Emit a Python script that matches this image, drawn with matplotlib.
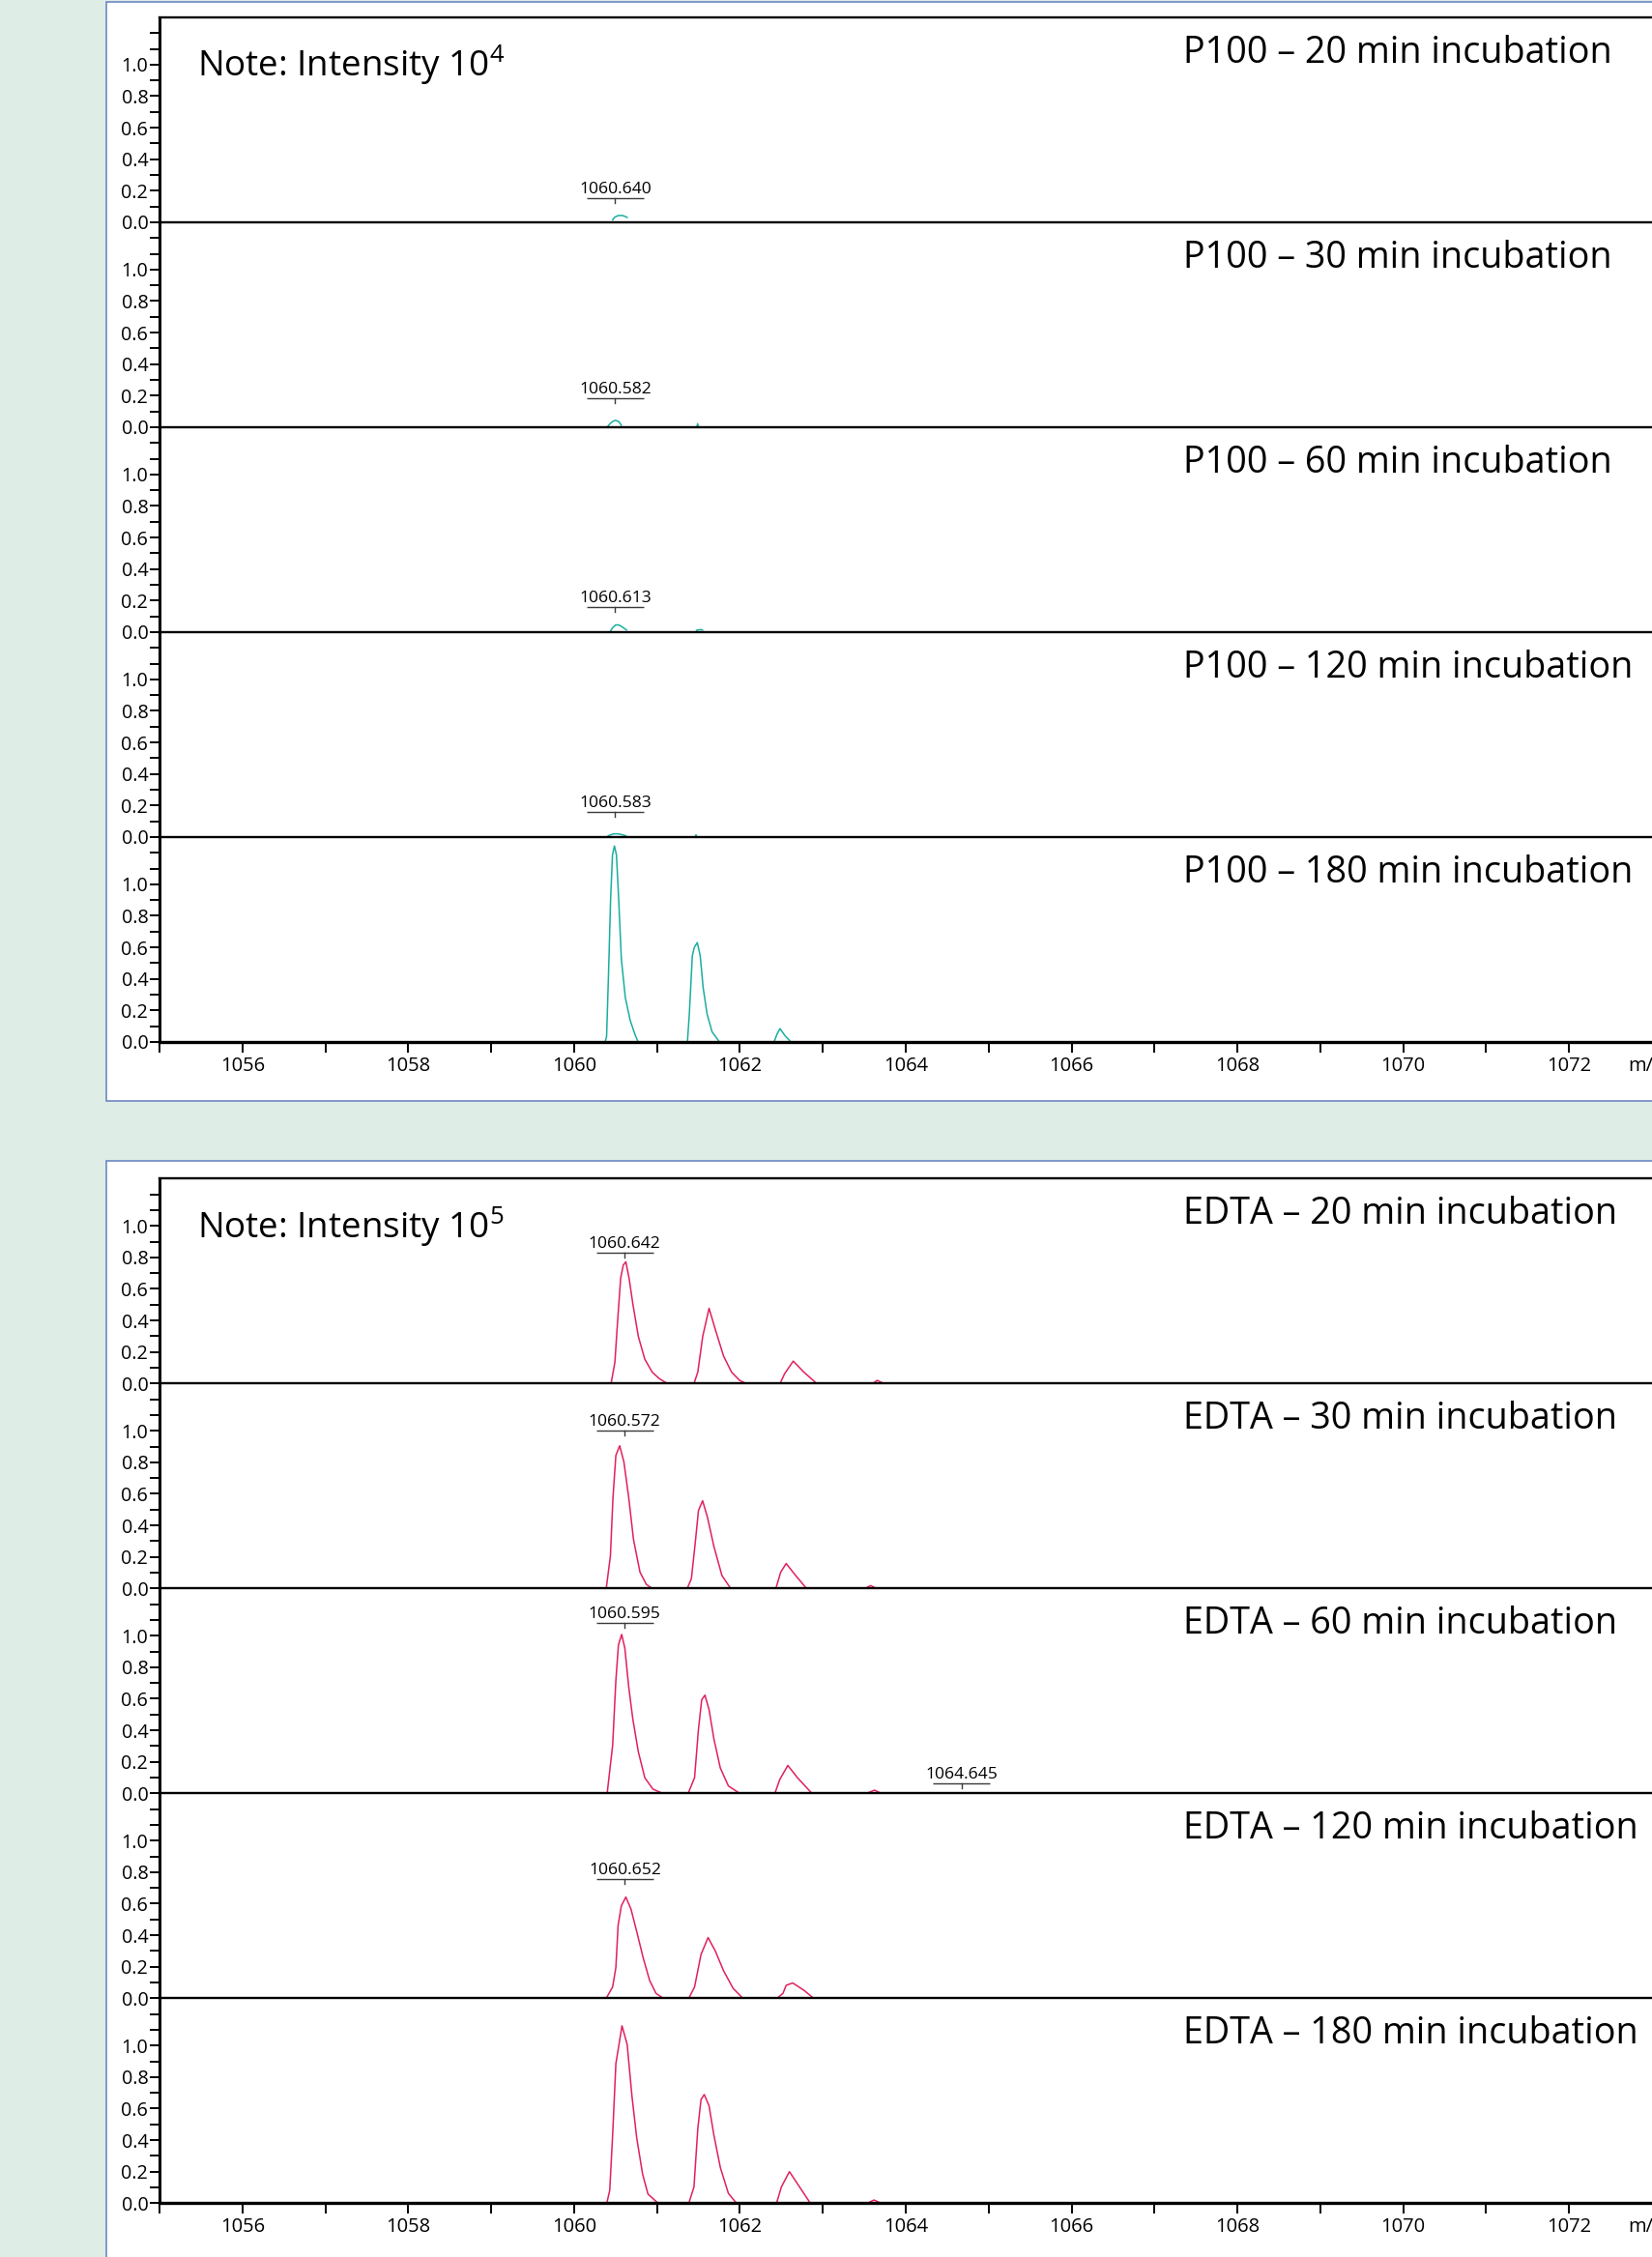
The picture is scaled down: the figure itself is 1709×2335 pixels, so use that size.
import matplotlib
matplotlib.use("Agg")
import matplotlib.pyplot as plt
from matplotlib.patches import Rectangle
from matplotlib.ticker import FixedLocator

# fonts
plt.rcParams['font.family'] = ['Open Sans', 'DejaVu Sans']
plt.rcParams['mathtext.fontset'] = 'custom'
plt.rcParams['mathtext.rm'] = 'Open Sans'
plt.rcParams['mathtext.it'] = 'Open Sans'

# ---------------- data ----------------
TIMES = [20, 30, 60, 120, 180]

# P100 traces, one list of peak segments per incubation time
P100_20_MZ = [[1060.465, 1060.49, 1060.53, 1060.58, 1060.62, 1060.64]]
P100_20_INT = [[0.015, 0.032, 0.042, 0.043, 0.036, 0.03]]

P100_30_MZ = [[1060.399, 1060.43, 1060.47, 1060.50, 1060.54, 1060.57],
              [1061.48, 1061.49, 1061.50]]
P100_30_INT = [[0.0, 0.02, 0.038, 0.043, 0.035, 0.012],
               [0.0, 0.022, 0.0]]

P100_60_MZ = [[1060.434, 1060.46, 1060.50, 1060.54, 1060.58, 1060.632],
              [1061.47, 1061.48, 1061.53, 1061.55]]
P100_60_INT = [[0.0, 0.025, 0.045, 0.045, 0.033, 0.013],
               [0.0, 0.012, 0.016, 0.012]]

P100_120_MZ = [[1060.392, 1060.43, 1060.48, 1060.53, 1060.58, 1060.624],
               [1061.46, 1061.47, 1061.48]]
P100_120_INT = [[0.0, 0.012, 0.02, 0.02, 0.014, 0.008],
                [0.0, 0.014, 0.0]]

P100_180_MZ = [[1060.374, 1060.392, 1060.416, 1060.440, 1060.463, 1060.487, 1060.511,
                1060.535, 1060.570, 1060.618, 1060.677, 1060.737, 1060.772],
               [1061.367, 1061.390, 1061.426, 1061.450, 1061.486, 1061.521, 1061.557,
                1061.604, 1061.664, 1061.753],
               [1062.412, 1062.448, 1062.484, 1062.543, 1062.614]]
P100_180_INT = [[0.0, 0.033, 0.444, 0.897, 1.185, 1.243, 1.185, 0.938, 0.527, 0.280,
                 0.136, 0.043, 0.0],
                [0.0, 0.177, 0.547, 0.60, 0.63, 0.547, 0.342, 0.177, 0.064, 0.0],
                [0.0, 0.05, 0.084, 0.04, 0.0]]

# EDTA traces
EDTA_20_MZ = [[1060.446, 1060.492, 1060.523, 1060.562, 1060.593, 1060.624, 1060.663,
               1060.709, 1060.775, 1060.853, 1060.942, 1061.027, 1061.124],
              [1061.446, 1061.492, 1061.551, 1061.628, 1061.705, 1061.802, 1061.899,
               1061.996, 1062.074],
              [1062.484, 1062.539, 1062.643, 1062.771, 1062.926],
              [1063.605, 1063.656, 1063.733]]
EDTA_20_INT = [[0.0, 0.134, 0.381, 0.669, 0.751, 0.772, 0.669, 0.504, 0.298, 0.154,
                0.072, 0.031, 0.0],
               [0.0, 0.072, 0.298, 0.477, 0.340, 0.175, 0.072, 0.02, 0.0],
               [0.0, 0.062, 0.142, 0.072, 0.0],
               [0.0, 0.02, 0.0]]

EDTA_30_MZ = [[1060.388, 1060.438, 1060.469, 1060.504, 1060.550, 1060.601, 1060.659,
               1060.717, 1060.795, 1060.872, 1060.942],
              [1061.365, 1061.415, 1061.461, 1061.500, 1061.550, 1061.608, 1061.686,
               1061.783, 1061.888],
              [1062.434, 1062.492, 1062.558, 1062.655, 1062.802],
              [1063.508, 1063.578, 1063.643]]
EDTA_30_INT = [[0.0, 0.206, 0.576, 0.844, 0.905, 0.802, 0.576, 0.309, 0.103, 0.025, 0.0],
               [0.0, 0.062, 0.288, 0.494, 0.556, 0.453, 0.267, 0.082, 0.0],
               [0.0, 0.103, 0.158, 0.093, 0.0],
               [0.0, 0.018, 0.0]]

EDTA_60_MZ = [[1060.399, 1060.465, 1060.504, 1060.535, 1060.574, 1060.612, 1060.659,
               1060.709, 1060.775, 1060.853, 1060.950, 1061.066],
              [1061.376, 1061.453, 1061.500, 1061.539, 1061.578, 1061.628, 1061.686,
               1061.764, 1061.861, 1061.996],
              [1062.422, 1062.481, 1062.578, 1062.694, 1062.868],
              [1063.527, 1063.624, 1063.702]]
EDTA_60_INT = [[0.0, 0.305, 0.716, 0.942, 1.008, 0.922, 0.675, 0.469, 0.263, 0.099,
                0.027, 0.0],
               [0.0, 0.099, 0.407, 0.593, 0.623, 0.531, 0.346, 0.160, 0.047, 0.0],
               [0.0, 0.088, 0.177, 0.099, 0.0],
               [0.0, 0.02, 0.0]]

EDTA_120_MZ = [[1060.388, 1060.465, 1060.504, 1060.531, 1060.570, 1060.624, 1060.686,
                1060.756, 1060.833, 1060.911, 1060.988, 1061.074],
               [1061.384, 1061.453, 1061.531, 1061.616, 1061.705, 1061.802, 1061.919,
                1062.035],
               [1062.450, 1062.519, 1062.558, 1062.636, 1062.771, 1062.888]]
EDTA_120_INT = [[0.0, 0.072, 0.195, 0.463, 0.586, 0.642, 0.566, 0.422, 0.257, 0.113,
                 0.031, 0.0],
                [0.0, 0.072, 0.278, 0.385, 0.298, 0.175, 0.062, 0.0],
                [0.0, 0.031, 0.082, 0.097, 0.051, 0.0]]

EDTA_180_MZ = [[1060.395, 1060.430, 1060.465, 1060.504, 1060.578, 1060.640, 1060.698,
                1060.756, 1060.826, 1060.891, 1061.012],
               [1061.384, 1061.446, 1061.492, 1061.531, 1061.570, 1061.628, 1061.686,
                1061.764, 1061.861, 1061.958],
               [1062.442, 1062.500, 1062.597, 1062.694, 1062.849],
               [1063.539, 1063.616, 1063.702]]
EDTA_180_INT = [[0.0, 0.082, 0.432, 0.885, 1.125, 1.008, 0.679, 0.412, 0.185, 0.058, 0.0],
                [0.0, 0.103, 0.473, 0.658, 0.689, 0.617, 0.432, 0.226, 0.062, 0.0],
                [0.0, 0.103, 0.20, 0.123, 0.0],
                [0.0, 0.02, 0.0]]

P100_MZ = [P100_20_MZ, P100_30_MZ, P100_60_MZ, P100_120_MZ, P100_180_MZ]
P100_INT = [P100_20_INT, P100_30_INT, P100_60_INT, P100_120_INT, P100_180_INT]
EDTA_MZ = [EDTA_20_MZ, EDTA_30_MZ, EDTA_60_MZ, EDTA_120_MZ, EDTA_180_MZ]
EDTA_INT = [EDTA_20_INT, EDTA_30_INT, EDTA_60_INT, EDTA_120_INT, EDTA_180_INT]

# peak annotations: panel index, m/z position, height of the bracket, text
P100_LBL_PANEL = [0, 1, 2, 3]
P100_LBL_MZ = [1060.496, 1060.496, 1060.496, 1060.496]
P100_LBL_Y = [0.153, 0.182, 0.160, 0.158]
P100_LBL_TEXT = ['1060.640', '1060.582', '1060.613', '1060.583']

EDTA_LBL_PANEL = [0, 1, 2, 2, 3]
EDTA_LBL_MZ = [1060.608, 1060.608, 1060.612, 1064.671, 1060.613]
EDTA_LBL_Y = [0.83, 1.004, 1.08, 0.064, 0.759]
EDTA_LBL_TEXT = ['1060.642', '1060.572', '1060.595', '1064.645', '1060.652']

Y_MAJOR = [0.0, 0.2, 0.4, 0.6, 0.8, 1.0]
Y_MINOR = [0.1, 0.3, 0.5, 0.7, 0.9, 1.1, 1.2]
X_MAJOR = [1056, 1058, 1060, 1062, 1064, 1066, 1068, 1070, 1072]
X_MINOR = [1055, 1057, 1059, 1061, 1063, 1065, 1067, 1069, 1071]

# ---------------- layout ----------------
W, H = 1709, 2335
X0 = 165          # left spine, px
STEP = 212        # height of one spectrum strip, px
XMIN, XMAX = 1055, 1073.0
TEAL = '#1AAE9E'
RED = '#E0215C'
BG = '#DEEDE6'
EDGE = '#6D88C2'

fig = plt.figure(figsize=(W / 100, H / 100), dpi=100)
fig.patch.set_facecolor(BG)

# white panels
fig.add_artist(Rectangle((110 / W, 1 - 1139 / H), 1.5, 1137 / H, transform=fig.transFigure,
                         facecolor='white', edgecolor=EDGE, lw=1.2, zorder=-5))
fig.add_artist(Rectangle((110 / W, -0.2), 1.5, 0.2 + 1 - 1201 / H, transform=fig.transFigure,
                         facecolor='white', edgecolor=EDGE, lw=1.2, zorder=-5))


def peak_label(ax, x, y, text):
    ax.plot([x - 0.344, x + 0.344], [y, y], color='#3a3a3a', lw=1.0, solid_capstyle='butt')
    ax.plot([x, x], [y, y - 0.031], color='#3a3a3a', lw=1.0)
    ax.annotate(text, (x, y), xytext=(0, 3.6), textcoords='offset points',
                ha='center', va='baseline', fontsize=12.6)


def draw_group(top_px, name, mz_all, int_all, colour, note,
               lbl_panel, lbl_mz, lbl_y, lbl_text):
    for i in range(5):
        top = top_px + i * STEP
        ax = fig.add_axes([X0 / W, 1 - (top + STEP) / H, 1 - X0 / W, STEP / H])
        ax.patch.set_visible(False)
        ax.set_xlim(XMIN, XMAX)
        ax.set_ylim(0, 1.3)

        for seg_mz, seg_int in zip(mz_all[i], int_all[i]):
            ax.plot(seg_mz, seg_int, color=colour, lw=1.1, zorder=2)

        ax.spines['right'].set_visible(False)
        ax.spines['top'].set_visible(i == 0)
        ax.spines['top'].set_linewidth(1.7)
        ax.spines['left'].set_linewidth(2.2)
        ax.spines['bottom'].set_linewidth(2.4 if i == 4 else 1.7)
        for s in ax.spines.values():
            s.set_zorder(3)

        ax.yaxis.set_major_locator(FixedLocator(Y_MAJOR))
        ax.yaxis.set_minor_locator(FixedLocator(Y_MINOR))
        ax.set_yticklabels(['%.1f' % v for v in Y_MAJOR])
        ax.tick_params(axis='y', which='both', direction='out', length=6.9,
                       width=1.4, pad=1.5, labelsize=14.2)

        if i == 4:
            ax.xaxis.set_major_locator(FixedLocator(X_MAJOR))
            ax.xaxis.set_minor_locator(FixedLocator(X_MINOR))
            ax.tick_params(axis='x', which='both', direction='out', length=7.7,
                           width=1.4, pad=3, labelsize=14.5)
            # axis name sits at the right edge and is cut there, as in the source
            ax.annotate('m/z', (1072.71, 0), xytext=(0, -10.7), textcoords='offset points',
                        ha='left', va='top', fontsize=14.5, annotation_clip=False)
        else:
            ax.tick_params(axis='x', which='both', bottom=False, labelbottom=False)

        ax.text(0.686, 0.78, '%s \u2013 %d min incubation' % (name, TIMES[i]),
                transform=ax.transAxes, ha='left', va='baseline', fontsize=27.2)
        if i == 0:
            ax.text(0.025, 0.71, note, transform=ax.transAxes, ha='left',
                    va='baseline', fontsize=26.5)

        for p, x, y, t in zip(lbl_panel, lbl_mz, lbl_y, lbl_text):
            if p == i:
                peak_label(ax, x, y, t)


draw_group(17.9, 'P100', P100_MZ, P100_INT, TEAL, 'Note: Intensity 10$^{4}$',
           P100_LBL_PANEL, P100_LBL_MZ, P100_LBL_Y, P100_LBL_TEXT)
draw_group(1219.3, 'EDTA', EDTA_MZ, EDTA_INT, RED, 'Note: Intensity 10$^{5}$',
           EDTA_LBL_PANEL, EDTA_LBL_MZ, EDTA_LBL_Y, EDTA_LBL_TEXT)

fig.savefig('out.png', dpi=100, facecolor=BG)
